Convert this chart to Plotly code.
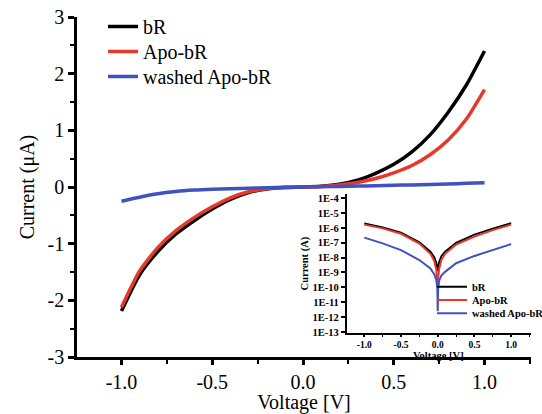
import plotly.graph_objects as go

# ---------------- main panel data (current in microampere) ----------------
voltage = [-1.0, -0.9, -0.8, -0.7, -0.6, -0.5, -0.4, -0.3, -0.2, -0.1, 0.0,
           0.1, 0.2, 0.3, 0.4, 0.5, 0.6, 0.7, 0.8, 0.9, 1.0]
current_bR = [-2.19, -1.55, -1.14, -0.83, -0.595, -0.39, -0.22, -0.10, -0.035, -0.01, 0.0,
              0.015, 0.05, 0.12, 0.24, 0.40, 0.62, 0.92, 1.32, 1.80, 2.40]
current_apo = [-2.12, -1.48, -1.07, -0.77, -0.54, -0.35, -0.19, -0.085, -0.03, -0.008, 0.0,
               0.01, 0.035, 0.08, 0.15, 0.25, 0.38, 0.57, 0.83, 1.20, 1.72]
current_washed = [-0.25, -0.18, -0.12, -0.08, -0.055, -0.04, -0.03, -0.02, -0.012, -0.005, 0.0,
                  0.005, 0.01, 0.016, 0.022, 0.03, 0.037, 0.045, 0.054, 0.064, 0.075]

# ---------------- inset data (|current| in ampere, log scale) ----------------
inset_voltage = [-1.0, -0.75, -0.5, -0.25, -0.1, -0.05, -0.02, -0.005, 0.0,
                 0.005, 0.02, 0.05, 0.1, 0.25, 0.5, 0.75, 1.0]
inset_bR = [2.0e-6, 1.07e-6, 4.7e-7, 1.05e-7, 2.5e-8, 1.1e-8, 4.5e-9, 2.0e-9, 1.25e-9,
            2.0e-9, 5.0e-9, 1.25e-8, 2.5e-8, 1.0e-7, 3.5e-7, 8.9e-7, 2.1e-6]
inset_apo = [1.66e-6, 9.3e-7, 4.0e-7, 8.9e-8, 1.8e-8, 6.3e-9, 1.6e-9, 4.0e-10, 1.0e-10,
             4.0e-10, 1.8e-9, 7.1e-9, 1.8e-8, 7.6e-8, 2.6e-7, 7.1e-7, 1.66e-6]
inset_washed = [2.2e-7, 9.1e-8, 3.2e-8, 6.9e-9, 1.9e-9, 7.9e-10, 3.2e-10, 7.9e-11, 2.5e-12,
                7.9e-11, 2.8e-10, 6.3e-10, 1.1e-9, 4.2e-9, 1.3e-8, 3.2e-8, 8.1e-8]

series_names = ["bR", "Apo-bR", "washed Apo-bR"]
series_colors = ["#000000", "#e8382c", "#4052c0"]

x_tick_vals = [-1.0, -0.5, 0.0, 0.5, 1.0]
x_tick_text = ["-1.0", "-0.5", "0.0", "0.5", "1.0"]
y_tick_vals = [-3, -2, -1, 0, 1, 2, 3]
y_tick_text = ["-3", "-2", "-1", "0", "1", "2", "3"]
inset_y_tick_vals = [1e-13, 1e-12, 1e-11, 1e-10, 1e-9, 1e-8, 1e-7, 1e-6, 1e-5, 1e-4]
inset_y_tick_text = ["1E-13", "1E-12", "1E-11", "1E-10", "1E-9", "1E-8",
                     "1E-7", "1E-6", "1E-5", "1E-4"]

SERIF = "Liberation Serif"

fig = go.Figure()
main_sets = [current_bR, current_apo, current_washed]
inset_sets = [inset_bR, inset_apo, inset_washed]
for i, (name, col) in enumerate(zip(series_names, series_colors)):
    fig.add_trace(go.Scatter(
        x=voltage, y=main_sets[i], mode="lines", name=name,
        line=dict(color=col, width=3.5, shape="spline", smoothing=0.6),
        legend="legend" if i == 0 else f"legend{i + 1}",
        xaxis="x", yaxis="y"))
for i, (name, col) in enumerate(zip(series_names, series_colors)):
    fig.add_trace(go.Scatter(
        x=inset_voltage, y=inset_sets[i], mode="lines", name=name,
        line=dict(color=col, width=2),
        legend=f"legend{i + 4}",
        xaxis="x2", yaxis="y2"))

main_font = dict(family=SERIF, size=20, color="black")
inset_font = dict(family=SERIF, size=10.5, color="black", weight="bold")
inset_xtick_font = dict(family=SERIF, size=9.5, color="black", weight="bold")

legend_common = dict(bgcolor="rgba(0,0,0,0)", borderwidth=0, xanchor="left",
                     yanchor="top", itemwidth=30)
main_legend_tops = [1.0294, 0.9559, 0.8824]
inset_legend_tops = [0.2494, 0.2103, 0.1712]
legends = {}
for i, yv in enumerate(main_legend_tops):
    key = "legend" if i == 0 else f"legend{i + 1}"
    legends[key] = dict(legend_common, x=0.0573, y=yv, font=main_font)
for i, yv in enumerate(inset_legend_tops):
    legends[f"legend{i + 4}"] = dict(legend_common, x=0.782, y=yv, font=inset_font)

fig.update_layout(
    width=542, height=414,
    margin=dict(l=77, r=11, t=17, b=57, autoexpand=False),
    paper_bgcolor="white", plot_bgcolor="white",
    showlegend=True,
    **legends,
    xaxis=dict(
        domain=[0, 1], range=[-1.245, 1.256], anchor="y",
        showline=True, linecolor="black", linewidth=2.5,
        ticks="outside", ticklen=5, tickwidth=2.5, tickcolor="black",
        tickvals=x_tick_vals, ticktext=x_tick_text, tickfont=main_font,
        minor=dict(dtick=0.25, ticks="outside", ticklen=4, tickwidth=2, tickcolor="black"),
        showgrid=False, zeroline=False,
        title=dict(text="Voltage [V]", font=main_font, standoff=6),
    ),
    yaxis=dict(
        domain=[0, 1], range=[-3, 3], anchor="x",
        showline=True, linecolor="black", linewidth=2.5,
        ticks="outside", ticklen=6, tickwidth=2.5, tickcolor="black",
        tickvals=y_tick_vals, ticktext=y_tick_text, tickfont=main_font,
        minor=dict(dtick=0.5, ticks="outside", ticklen=4, tickwidth=2, tickcolor="black"),
        showgrid=False, zeroline=False,
        title=dict(text="Current (μA)", font=main_font, standoff=8),
    ),
    xaxis2=dict(
        domain=[0.594, 1.0], range=[-1.24, 1.27], anchor="y2",
        showline=True, linecolor="black", linewidth=1.5,
        ticks="outside", ticklen=2, tickwidth=1.5, tickcolor="black",
        tickvals=x_tick_vals, ticktext=x_tick_text, tickfont=inset_xtick_font,
        minor=dict(dtick=0.25, ticks="outside", ticklen=2, tickwidth=1.2, tickcolor="black"),
        showgrid=False, zeroline=False,
    ),
    yaxis2=dict(
        domain=[0.0706, 0.479], type="log", range=[-13.07, -3.73], anchor="x2",
        showline=True, linecolor="black", linewidth=1.5,
        ticks="outside", ticklen=4, tickwidth=1.5, tickcolor="black",
        tickvals=inset_y_tick_vals, ticktext=inset_y_tick_text, tickfont=inset_font,
        showgrid=False, zeroline=False,
        title=dict(text="Current (A)", font=inset_font, standoff=2),
    ),
    annotations=[dict(
        text="Voltage [V]", font=inset_font, showarrow=False,
        xref="x2 domain", yref="y2 domain", x=0.5, y=-0.165,
        xanchor="center", yanchor="middle",
    )],
)

fig.write_html("out.html")
